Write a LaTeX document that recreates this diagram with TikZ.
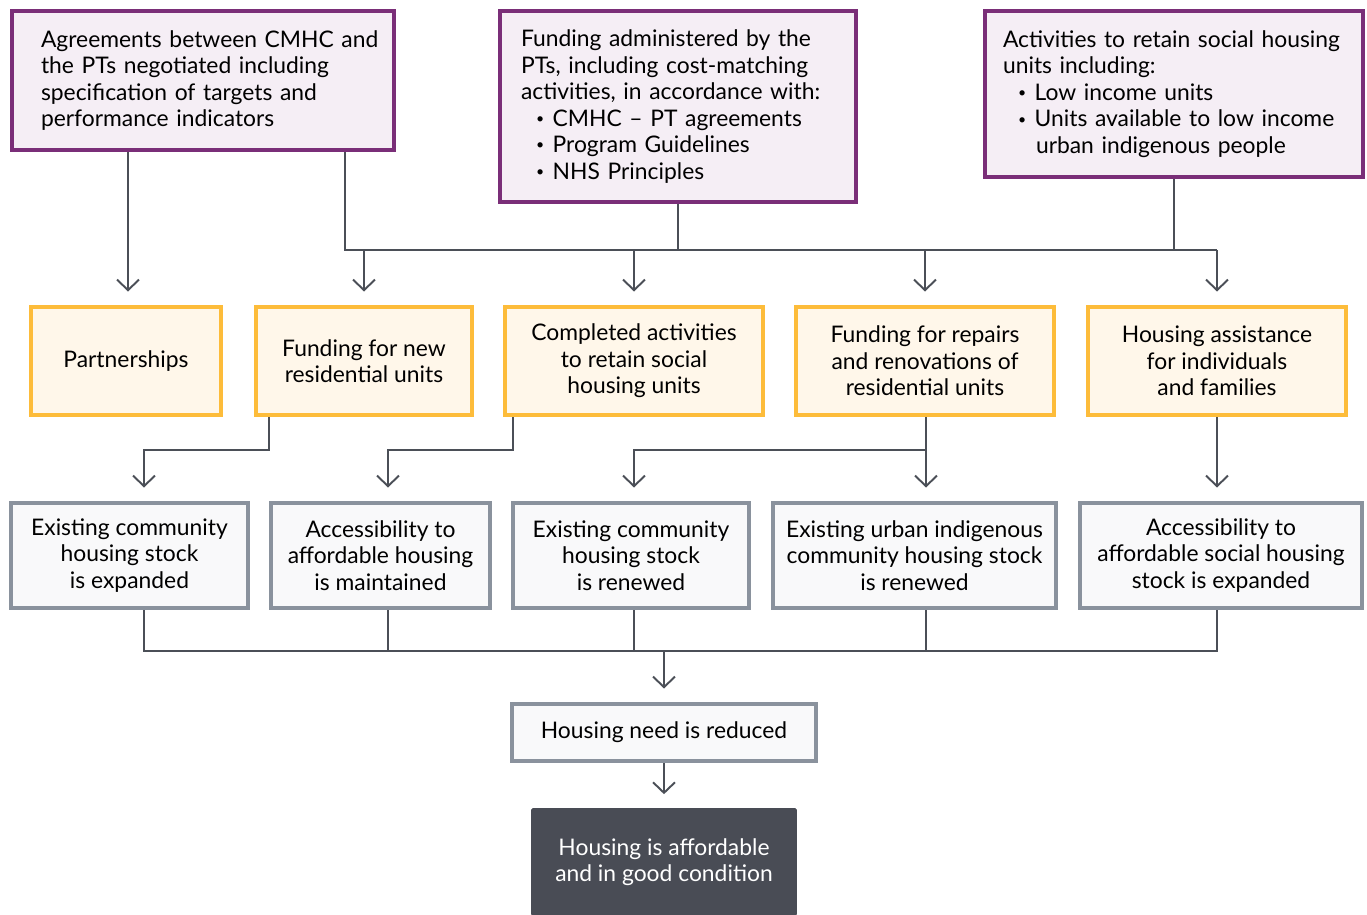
\documentclass[tikz,border=0pt]{standalone}
\usepackage{fontspec}
\setmainfont{Lato}
\usetikzlibrary{arrows.meta,calc}

\definecolor{purpleline}{HTML}{7A2E78}
\definecolor{purplefill}{HTML}{F5EEF5}
\definecolor{yellowline}{HTML}{FDBC3A}
\definecolor{yellowfill}{HTML}{FFF7EA}
\definecolor{greyline}{HTML}{8A929D}
\definecolor{greyfill}{HTML}{F9F9FA}
\definecolor{linkcolor}{HTML}{4B4F57}
\definecolor{darkfill}{HTML}{494C55}

\newcommand{\bul}{\hspace*{0.3cm}\raisebox{1.6pt}{\fontsize{8}{8}\selectfont\textbullet}\hspace{0.17cm}}

\tikzset{
  every node/.style={font=\fontsize{13}{15.1}\selectfont, inner sep=0pt},
  input/.style={draw=purpleline, fill=purplefill, line width=2.3pt, align=left},
  output/.style={draw=yellowline, fill=yellowfill, line width=2.3pt, align=center, minimum height=2.16cm},
  outcome/.style={draw=greyline, fill=greyfill, line width=2.3pt, align=center},
  final/.style={fill=darkfill, text=white, rounded corners=1pt, align=center},
  link/.style={draw=linkcolor, line width=1.1pt},
  arr/.style={link, -{Straight Barb[length=6pt,width=12.5pt]}, shorten >=0.27cm}
}

\begin{document}
\begin{tikzpicture}[x=0.02cm, y=-0.02cm]
    \useasboundingbox (0,0) rectangle (1367,914);

    % inputs
    \node[input, minimum width=7.64cm, minimum height=2.78cm, text width=6.48cm] (a) at (203,80.5)
      {\mbox{Agreements between CMHC and}\\ the PTs negotiated including\\ specification of targets and\\ performance indicators};
    \node[input, minimum width=7.12cm, minimum height=3.82cm, text width=6.28cm] (b) at (678,106.5)
      {Funding administered by the\\ PTs, including cost-matching\\ activities, in accordance with:\\
       \bul CMHC – PT agreements\\
       \bul Program Guidelines\\
       \bul NHS Principles};
    \node[input, minimum width=7.56cm, minimum height=3.32cm, text width=6.84cm] (c) at (1174,94)
      {Activities to retain social housing\\ units including:\\
       \bul Low income units\\
       \bul Units available to low income\\
       \hspace*{0.66cm}urban indigenous people};

    % outputs
    \node[output, minimum width=3.8cm] (p1) at (126,361) {Partnerships};
    \node[output, minimum width=4.32cm] (p2) at (364,361) {Funding for new\\ residential units};
    \node[output, minimum width=5.16cm] (p3) at (634,361) {Completed activities\\ to retain social\\ housing units};
    \node[output, minimum width=5.16cm] (p4) at (925,361) {Funding for repairs\\ and renovations of\\ residential units};
    \node[output, minimum width=5.16cm] (p5) at (1217,361) {Housing assistance\\ for individuals\\ and families};

    % outcomes
    \node[outcome, minimum width=4.74cm, minimum height=2.1cm] (o1) at (129.5,555.5) {Existing community\\ housing stock\\ is expanded};
    \node[outcome, minimum width=4.38cm, minimum height=2.1cm] (o2) at (380.5,555.5) {Accessibility to\\ affordable housing\\ is maintained};
    \node[outcome, minimum width=4.72cm, minimum height=2.1cm] (o3) at (631,555.5) {Existing community\\ housing stock\\ is renewed};
    \node[outcome, minimum width=5.66cm, minimum height=2.1cm] (o4) at (914.5,555.5) {Existing urban indigenous\\ community housing stock\\ is renewed};
    \node[outcome, minimum width=5.64cm, minimum height=2.1cm] (o5) at (1221,555.5) {Accessibility to\\ affordable social housing\\ stock is expanded};

    \node[outcome, minimum width=6.08cm, minimum height=1.14cm] (need) at (664,732.5) {Housing need is reduced};
    \node[final, minimum width=5.32cm, minimum height=2.16cm] (goal) at (664,862) {Housing is affordable\\ and in good condition};

    \coordinate (busa) at (0,250);
    \coordinate (busb) at (0,450);
    \coordinate (busc) at (0,651);

    % inputs to outputs
    \draw[arr] ($(a.south)+(-75,0)$) -- ($(p1.north)+(2,0)$);
    \draw[link] ($(a.south)+(142,0)$) |- (busa -| p5);
    \draw[link] (b.south) -- (busa -| b);
    \draw[link] (c.south) -- (busa -| c);
    \foreach \n in {p2,p3,p4,p5}
      \draw[arr] (busa -| \n) -- (\n.north);

    % outputs to outcomes
    \draw[arr] ($(p2.south)+(-95,0)$) |- ($(busb -| o1)+(14.5,0)$) -- ($(o1.north)+(14.5,0)$);
    \draw[arr] ($(p3.south)+(-121,0)$) |- ($(busb -| o2)+(7.5,0)$) -- ($(o2.north)+(7.5,0)$);
    \draw[arr] ($(p4.south)+(1,0)$) -- ($(o4.north)+(11.5,0)$);
    \draw[arr] (busb -| 926,0) -| ($(o3.north)+(3,0)$);
    \draw[arr] (p5.south) -- ($(o5.north)+(-4,0)$);

    % outcomes to need
    \draw[link] ($(o1.south)+(14.5,0)$) |- ($(busc -| o5)+(-4,0)$) -- ($(o5.south)+(-4,0)$);
    \draw[link] ($(o2.south)+(7.5,0)$) -- ($(busc -| o2)+(7.5,0)$);
    \draw[link] ($(o3.south)+(3,0)$) -- ($(busc -| o3)+(3,0)$);
    \draw[link] ($(o4.south)+(11.5,0)$) -- ($(busc -| o4)+(11.5,0)$);
    \draw[arr] (busc -| need) -- (need.north);
    \draw[arr] (need.south) -- (goal.north);
\end{tikzpicture}
\end{document}
